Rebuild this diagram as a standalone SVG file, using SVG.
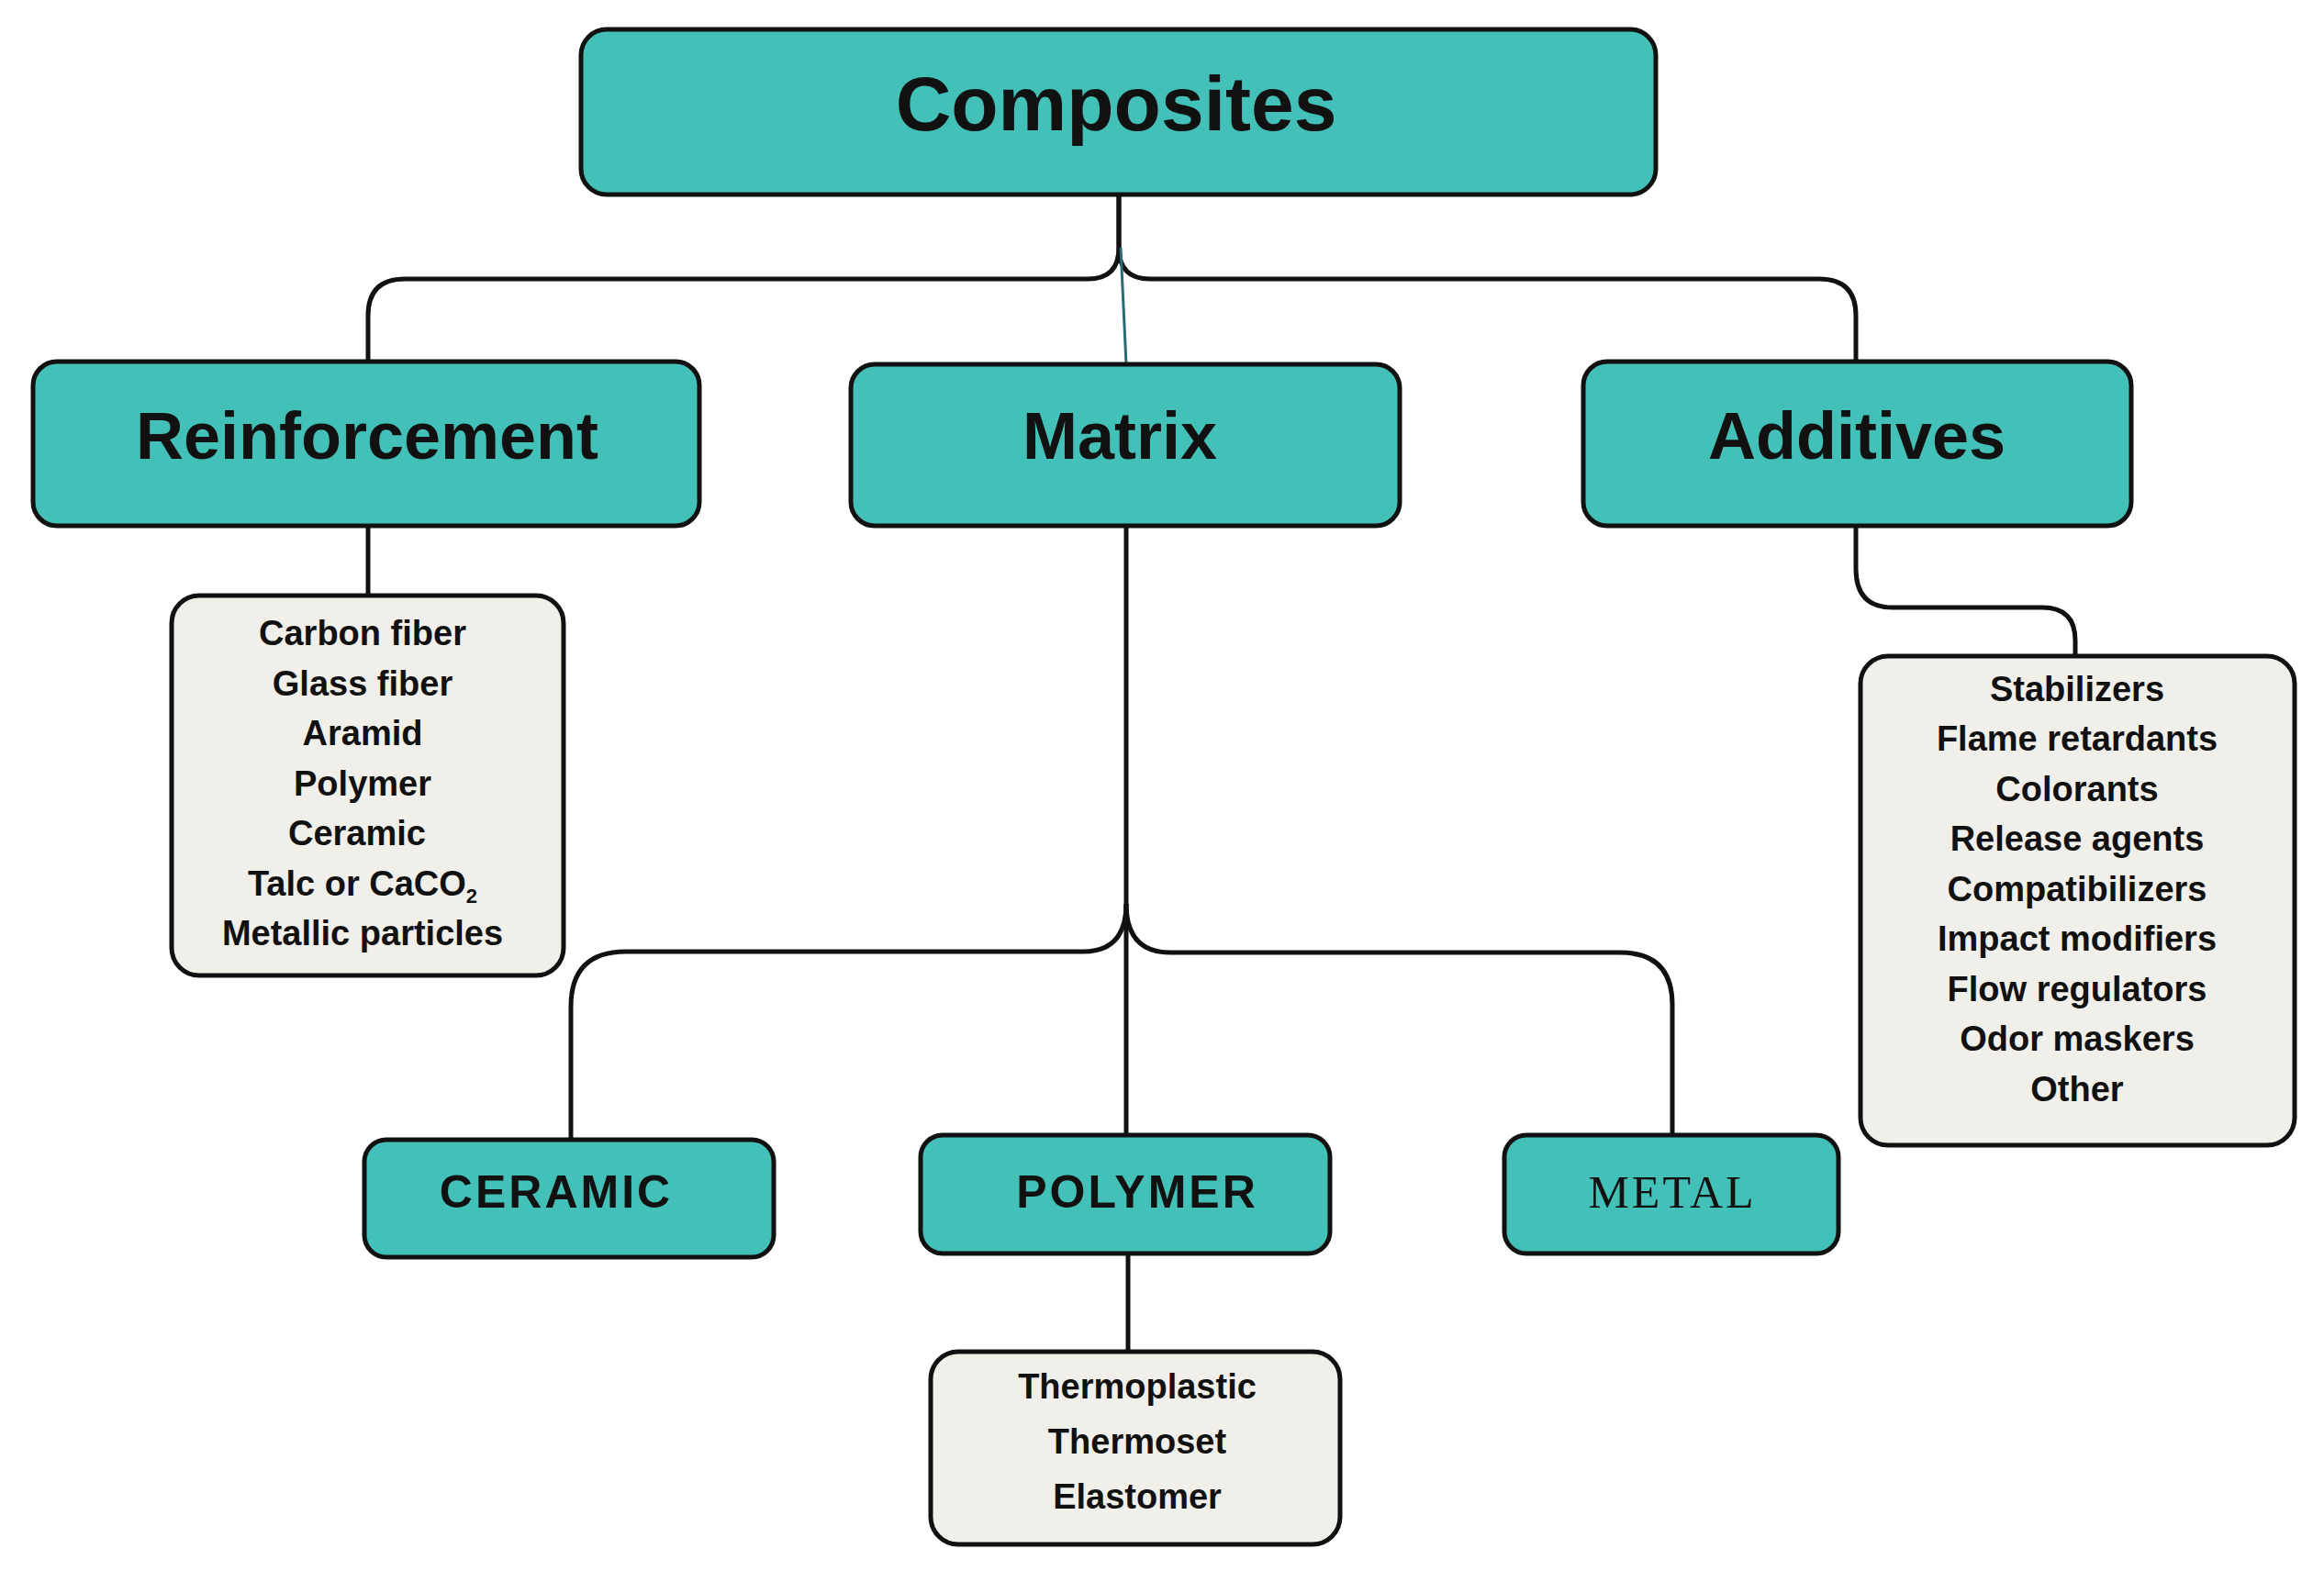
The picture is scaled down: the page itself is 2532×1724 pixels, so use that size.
<svg xmlns="http://www.w3.org/2000/svg" width="2532" height="1724" viewBox="0 0 2532 1724">
<style>
.t{fill:#43c1b9;stroke:#111;stroke-width:5}
.g{fill:#f0efea;stroke:#111;stroke-width:5}
.c{fill:none;stroke:#111;stroke-width:5}
text{font-family:"Liberation Sans",Arial,sans-serif;font-weight:bold;fill:#111;text-anchor:middle}
.h{font-size:84px}.m{font-size:72px}.s{font-size:50px;letter-spacing:3px}.l{font-size:38px}
</style>
<rect width="2532" height="1724" fill="#fff"/>
<g id="connectors">
<path class="c" d="M1219 212 V270 Q1219 304 1185 304 H441 Q401 304 401 344 V394"/>
<path class="c" d="M1219 212 V270 Q1219 304 1253 304 H1982 Q2022 304 2022 344 V394"/>
<path d="M1221 270 L1227 397" fill="none" stroke="#2a6a78" stroke-width="3"/>
<path class="c" d="M401 573 V649"/>
<path class="c" d="M2022 573 V620 Q2022 662 2062 662 H2225 Q2261 662 2261 698 V715"/>
<path class="c" d="M1227 573 V1237"/>
<path class="c" d="M1227 985 Q1227 1037 1180 1037 H682 Q622 1037 622 1097 V1242"/>
<path class="c" d="M1227 985 Q1227 1038 1275 1038 H1765 Q1822 1038 1822 1095 V1237"/>
<path class="c" d="M1229 1366 V1473"/>
</g>
<g id="composites"><rect class="t" x="633" y="32" width="1171" height="180" rx="28"/><text class="h" x="1216" y="142">Composites</text></g>
<g id="reinforcement"><rect class="t" x="36" y="394" width="726" height="179" rx="26"/><text class="m" x="400" y="500">Reinforcement</text></g>
<g id="matrix"><rect class="t" x="927" y="397" width="598" height="176" rx="26"/><text class="m" x="1220" y="500">Matrix</text></g>
<g id="additives"><rect class="t" x="1725" y="394" width="597" height="179" rx="26"/><text class="m" x="2023" y="500">Additives</text></g>
<g id="reinforcement-list"><rect class="g" x="187" y="649" width="427" height="414" rx="30"/>
<text class="l" x="395" y="703">Carbon fiber</text><text class="l" x="395" y="758">Glass fiber</text><text class="l" x="395" y="812">Aramid</text><text class="l" x="395" y="867">Polymer</text><text class="l" x="389" y="921">Ceramic</text><text class="l" x="395" y="976">Talc or CaCO<tspan font-size="22" dy="8">2</tspan></text><text class="l" x="395" y="1030">Metallic particles</text></g>
<g id="additives-list"><rect class="g" x="2027" y="715" width="473" height="533" rx="30"/>
<text class="l" x="2263" y="764">Stabilizers</text><text class="l" x="2263" y="818">Flame retardants</text><text class="l" x="2263" y="873">Colorants</text><text class="l" x="2263" y="927">Release agents</text><text class="l" x="2263" y="982">Compatibilizers</text><text class="l" x="2263" y="1036">Impact modifiers</text><text class="l" x="2263" y="1091">Flow regulators</text><text class="l" x="2263" y="1145">Odor maskers</text><text class="l" x="2263" y="1200">Other</text></g>
<g id="ceramic"><rect class="t" x="397" y="1242" width="446" height="128" rx="24"/><text class="s" x="606" y="1316">CERAMIC</text></g>
<g id="polymer"><rect class="t" x="1003" y="1237" width="446" height="129" rx="24"/><text class="s" x="1239" y="1316">POLYMER</text></g>
<g id="metal"><rect class="t" x="1639" y="1237" width="364" height="129" rx="24"/><text class="s" x="1822" y="1316" style="font-family:'Liberation Serif','Times New Roman',serif;font-weight:normal">METAL</text></g>
<g id="polymer-list"><rect class="g" x="1014" y="1473" width="446" height="210" rx="30"/>
<text class="l" x="1239" y="1524">Thermoplastic</text><text class="l" x="1239" y="1584">Thermoset</text><text class="l" x="1239" y="1644">Elastomer</text></g>
</svg>
